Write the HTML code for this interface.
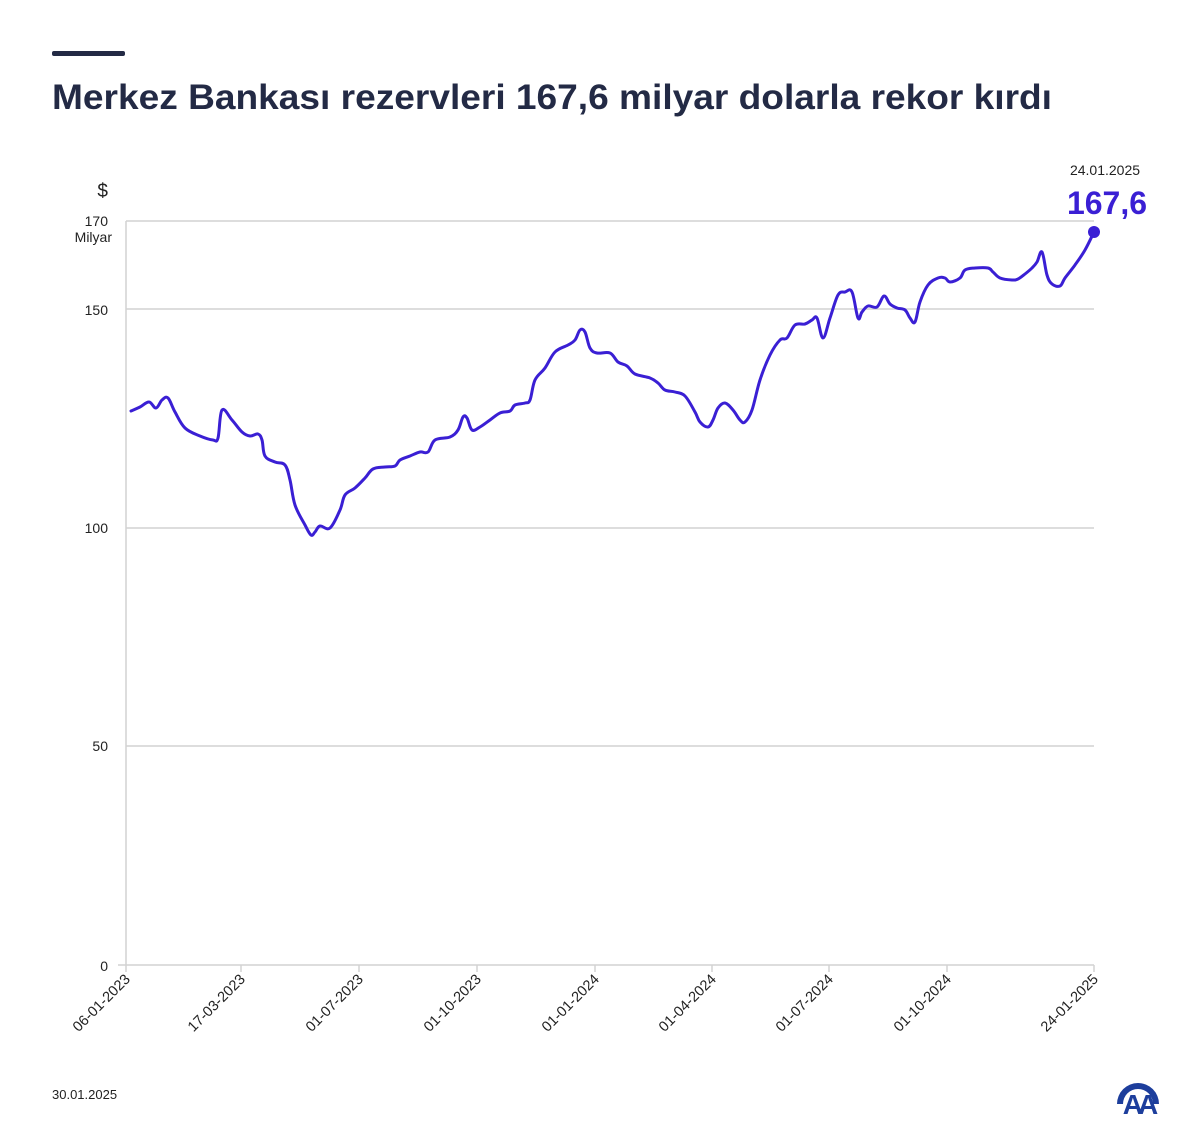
<!DOCTYPE html>
<html><head><meta charset="utf-8"><style>
html,body{margin:0;padding:0;background:#fff;}
body{width:1200px;height:1140px;position:relative;overflow:hidden;font-family:"Liberation Sans",sans-serif;}
</style></head><body>
<svg width="1200" height="1140" viewBox="0 0 1200 1140" xmlns="http://www.w3.org/2000/svg" style="position:absolute;left:0;top:0">
<rect x="52" y="51" width="73" height="5" rx="2" fill="#232a45"/>
<text x="52" y="109" font-size="35" font-weight="bold" fill="#232a45" font-family="Liberation Sans, sans-serif" textLength="1000" lengthAdjust="spacingAndGlyphs">Merkez Bankası rezervleri 167,6 milyar dolarla rekor kırdı</text>
<g stroke="#d2d2d2" stroke-width="1.5">
<line x1="126" y1="221" x2="1094" y2="221"/>
<line x1="126" y1="309" x2="1094" y2="309"/>
<line x1="126" y1="528" x2="1094" y2="528"/>
<line x1="126" y1="746" x2="1094" y2="746"/>
<line x1="118" y1="965" x2="1094" y2="965"/>
<line x1="126" y1="221" x2="126" y2="972"/>
<line x1="241" y1="965" x2="241" y2="972"/>
<line x1="359" y1="965" x2="359" y2="972"/>
<line x1="477" y1="965" x2="477" y2="972"/>
<line x1="595" y1="965" x2="595" y2="972"/>
<line x1="712" y1="965" x2="712" y2="972"/>
<line x1="829" y1="965" x2="829" y2="972"/>
<line x1="947" y1="965" x2="947" y2="972"/>
<line x1="1094" y1="965" x2="1094" y2="972"/>
</g>
<g font-size="14" fill="#222" text-anchor="end" font-family="Liberation Sans, sans-serif">
<text x="108" y="197" font-size="19">$</text>
<text x="108" y="226">170</text>
<text x="112" y="242">Milyar</text>
<text x="108" y="315">150</text>
<text x="108" y="533">100</text>
<text x="108" y="751">50</text>
<text x="108" y="971">0</text>
</g>
<g font-size="14.5" fill="#222" text-anchor="end" font-family="Liberation Sans, sans-serif">
<text transform="translate(131,980) rotate(-45)">06-01-2023</text>
<text transform="translate(246,980) rotate(-45)">17-03-2023</text>
<text transform="translate(364,980) rotate(-45)">01-07-2023</text>
<text transform="translate(482,980) rotate(-45)">01-10-2023</text>
<text transform="translate(600,980) rotate(-45)">01-01-2024</text>
<text transform="translate(717,980) rotate(-45)">01-04-2024</text>
<text transform="translate(834,980) rotate(-45)">01-07-2024</text>
<text transform="translate(952,980) rotate(-45)">01-10-2024</text>
<text transform="translate(1099,980) rotate(-45)">24-01-2025</text>
</g>
<path id="ln" fill="none" stroke="#3a1fd4" stroke-width="3" stroke-linejoin="round" stroke-linecap="round" d=""/>
<circle cx="1094" cy="232" r="6" fill="#3a1fd4"/>
<text x="1105" y="175" font-size="14" fill="#222" text-anchor="middle" font-family="Liberation Sans, sans-serif">24.01.2025</text>
<text x="1107" y="214" font-size="32" font-weight="bold" fill="#3a1fd4" text-anchor="middle" font-family="Liberation Sans, sans-serif">167,6</text>
<text x="52" y="1099" font-size="13" fill="#222" font-family="Liberation Sans, sans-serif">30.01.2025</text>
<g fill="#1d3e9c">
<path d="M1117,1104 A21,21 0 0 1 1159,1104 L1153,1104 A15,15 0 0 0 1123,1104 Z"/>
<text x="1138" y="1114" font-size="28" font-weight="bold" text-anchor="middle" font-family="Liberation Sans, sans-serif" letter-spacing="-5">AA</text>
</g>
</svg>
<script>
var p=[131,411,140,407,149,402,156,408,162,400,168,398,175,412,185,428,200,436,213,440,218,438,222,410,232,420,242,432,250,436,258,434,262,440,265,456,275,462,285,465,290,480,295,505,305,525,311,535,315,532,320,526,330,528,340,510,345,495,355,488,365,478,373,469,385,467,395,466,400,460,410,456,420,452,428,452,435,440,450,437,458,430,463,417,467,418,472,430,480,427,490,420,500,413,510,411,515,405,525,403,530,400,535,380,545,368,555,352,568,345,575,340,580,330,585,332,590,348,597,353,610,353,618,362,627,366,635,374,650,378,658,383,665,390,675,392,685,396,695,412,700,422,708,427,713,420,718,408,725,403,733,410,740,420,745,422,752,410,760,380,770,355,780,340,787,338,795,325,805,324,812,320,817,318,823,338,830,318,838,295,845,292,852,292,858,318,862,312,868,306,877,307,884,296,890,304,897,308,905,310,910,318,915,322,920,302,928,285,938,278,945,278,950,282,960,278,965,270,975,268,988,268,993,272,1000,278,1012,280,1018,279,1025,274,1032,268,1037,262,1042,252,1047,275,1052,284,1060,286,1065,278,1075,265,1085,250,1094,232];
var pts=[];for(var i=0;i<p.length;i+=2)pts.push([p[i],p[i+1]]);
var d="M"+pts[0][0]+","+pts[0][1];
for(var i=0;i<pts.length-1;i++){var a=pts[Math.max(0,i-1)],b=pts[i],c=pts[i+1],e=pts[Math.min(pts.length-1,i+2)];
var t=0.18;d+=" C"+(b[0]+(c[0]-a[0])*t)+","+(b[1]+(c[1]-a[1])*t)+" "+(c[0]-(e[0]-b[0])*t)+","+(c[1]-(e[1]-b[1])*t)+" "+c[0]+","+c[1];}
document.getElementById("ln").setAttribute("d",d);
</script>
</body></html>
